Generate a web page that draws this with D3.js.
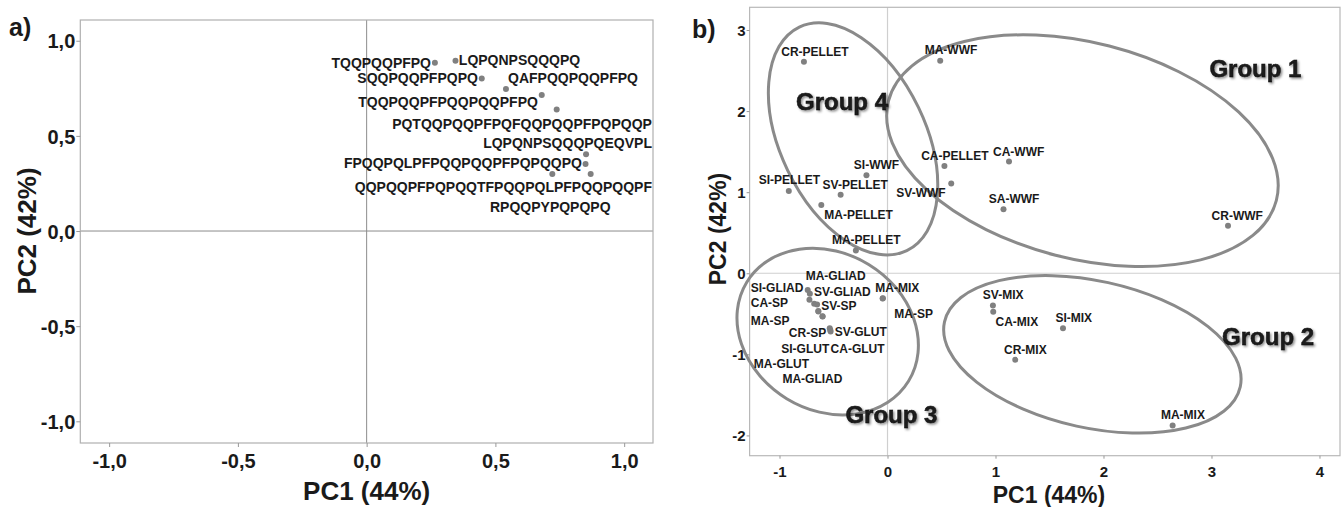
<!DOCTYPE html>
<html>
<head>
<meta charset="utf-8">
<script src="https://cdn.jsdelivr.net/npm/d3@7"></script>
<style>
  html, body { margin: 0; padding: 0; background: #fff; }
  svg { display: block; }
  text { font-family: "Liberation Sans", Arial, sans-serif; font-weight: bold; fill: #1a1a1a; }
</style>
</head>
<body>
<svg id="chart" width="1341" height="507"></svg>
<script>
// ---------- Panel a: peptide loadings ----------
const peptides = ["TQQPQQPFPQ", "LQPQNPSQQQPQ", "SQQPQQPFPQPQ", "QAFPQQPQQPFPQ",
  "TQQPQQPFPQQPQQPFPQ", "PQTQQPQQPFPQFQQPQQPFPQPQQP", "LQPQNPSQQQPQEQVPL",
  "FPQQPQLPFPQQPQQPFPQPQQPQ", "QQPQQPFPQPQQTFPQQPQLPFPQQPQQPF", "RPQQPYPQPQPQ"];
const pepPC1 = [0.265, 0.345, 0.447, 0.541, 0.680, 0.738, 0.852, 0.850, 0.721, 0.870];
const pepPC2 = [0.884, 0.895, 0.802, 0.746, 0.715, 0.639, 0.403, 0.352, 0.300, 0.300];
// label anchor positions (read in PC units) and text anchor
const pepLabelPC1 = [0.250, 0.358, 0.432, 0.549, 0.665, 1.108, 1.108, 0.836, 1.108, 0.479];
const pepLabelPC2 = [0.857, 0.872, 0.778, 0.778, 0.652, 0.536, 0.436, 0.331, 0.205, 0.100];
const pepLabelAnchor = ["end", "start", "end", "start", "end", "end", "end", "end", "end", "start"];
const ticksA = [-1, -0.5, 0, 0.5, 1];
const tickLabelsA = ["-1,0", "-0,5", "0,0", "0,5", "1,0"];

// ---------- Panel b: sample scores ----------
const samples = ["CR-PELLET", "MA-WWF", "CA-PELLET", "CA-WWF", "SV-WWF", "SA-WWF", "CR-WWF",
  "SI-WWF", "SI-PELLET", "SV-PELLET", "MA-PELLET", "MA-PELLET",
  "MA-GLIAD", "SI-GLIAD", "SV-GLIAD", "CA-SP", "SV-SP", "MA-SP", "CR-SP", "SV-GLUT",
  "SI-GLUT", "CA-GLUT", "MA-GLUT", "MA-GLIAD", "MA-MIX", "MA-SP",
  "SV-MIX", "CA-MIX", "SI-MIX", "CR-MIX", "MA-MIX"];
const samplePC1 = [-0.774, 0.488, 0.527, 1.125, 0.590, 1.074, 3.153,
  -0.195, -0.914, -0.434, -0.613, -0.293,
  -0.739, -0.719, -0.723, -0.679, -0.652, -0.640, -0.601, -0.535,
  -0.527, -0.530, -0.602, -0.641, -0.043, -0.045,
  0.976, 0.979, 1.625, 1.183, 2.640];
const samplePC2 = [2.607, 2.620, 1.324, 1.377, 1.106, 0.790, 0.585,
  1.209, 1.016, 0.967, 0.843, 0.280,
  -0.205, -0.254, -0.328, -0.377, -0.386, -0.472, -0.534, -0.677,
  -0.719, -0.700, -0.530, -0.465, -0.307, -0.310,
  -0.398, -0.476, -0.677, -1.068, -1.878];
const sampleLabelPC1 = [-0.984, 0.344, 0.312, 0.977, 0.082, 0.938, 3.001,
  -0.312, -1.192, -0.601, -0.586, -0.515,
  -0.758, -1.266, -0.680, -1.266, -0.614, -1.266, -0.914, -0.488,
  -0.984, -0.527, -1.238, -0.973, -0.113, 0.063,
  0.883, 1.000, 1.555, 1.079, 2.532];
const sampleLabelPC2 = [2.681, 2.705, 1.398, 1.451, 0.938, 0.864, 0.658,
  1.287, 1.099, 1.037, 0.671, 0.363,
  -0.081, -0.233, -0.275, -0.418, -0.451, -0.636, -0.781, -0.772,
  -0.985, -0.978, -1.163, -1.348, -0.226, -0.546,
  -0.316, -0.649, -0.603, -0.994, -1.799];
const ticksBx = [-1, 0, 1, 2, 3, 4];
const ticksBy = [-2, -1, 0, 1, 2, 3];

// groups (ellipses in PC units)
const groupNames = ["Group 1", "Group 2", "Group 3", "Group 4"];
const groupLabelPC1 = [2.981, 3.098, -0.390, -0.847];
const groupLabelPC2 = [2.422, -0.883, -1.841, 2.016];
const ellCx = [1.805, 1.897, -0.554, -0.319];
const ellCy = [1.512, -1.000, -0.719, 1.657];
const ellRx = [1.854, 1.402, 0.878, 1.148];
const ellRy = [1.332, 0.906, 0.970, 0.895];
const ellAngle = [14.4, 12.4, 31.4, 64.3];

// ---------- drawing ----------
const svg = d3.select("#chart");
const defs = svg.append("defs");
const f = defs.append("filter").attr("id", "shadow").attr("x", "-20%").attr("y", "-20%").attr("width", "140%").attr("height", "160%");
f.append("feDropShadow").attr("dx", 1.5).attr("dy", 1.5).attr("stdDeviation", 1.2)
  .attr("flood-color", "#000").attr("flood-opacity", 0.45);

const hyphenInt = d => String(d).replace("\u2212", "-");

// Panel a
const xA = d3.scaleLinear().domain([-1.112, 1.112]).range([80.3, 653]);
const yA = d3.scaleLinear().domain([-1.114, 1.109]).range([443, 20]);
const gA = svg.append("g");

gA.append("line").attr("x1", xA(0)).attr("x2", xA(0)).attr("y1", yA.range()[1]).attr("y2", yA.range()[0])
  .attr("stroke", "#8c8c8c").attr("stroke-width", 1);
gA.append("line").attr("x1", xA.range()[0]).attr("x2", xA.range()[1]).attr("y1", yA(0)).attr("y2", yA(0))
  .attr("stroke", "#8c8c8c").attr("stroke-width", 1);
gA.append("rect").attr("x", xA.range()[0]).attr("y", yA.range()[1])
  .attr("width", xA.range()[1] - xA.range()[0]).attr("height", yA.range()[0] - yA.range()[1])
  .attr("fill", "none").attr("stroke", "#b0b0b0").attr("stroke-width", 1.2);

const axA_x = gA.append("g").attr("transform", `translate(0,${yA.range()[0]})`)
  .call(d3.axisBottom(xA).tickValues(ticksA).tickSize(4).tickFormat((d, i) => tickLabelsA[i]));
const axA_y = gA.append("g").attr("transform", `translate(${xA.range()[0]},0)`)
  .call(d3.axisLeft(yA).tickValues(ticksA).tickSize(4).tickFormat((d, i) => tickLabelsA[i]));
[axA_x, axA_y].forEach(a => {
  a.select(".domain").remove();
  a.selectAll(".tick line").attr("stroke", "#999");
  a.selectAll("text").attr("font-size", 20).attr("font-weight", "bold").attr("fill", "#1a1a1a")
    .attr("font-family", "Liberation Sans, Arial, sans-serif");
});
axA_x.selectAll("text").attr("dy", null).attr("y", 25);
axA_y.selectAll("text").attr("x", -5).attr("dy", "0.36em");

gA.selectAll("circle.pep").data(peptides).join("circle").attr("class", "pep")
  .attr("cx", (d, i) => xA(pepPC1[i])).attr("cy", (d, i) => yA(pepPC2[i]))
  .attr("r", 3).attr("fill", "#808080");
gA.selectAll("text.pep").data(peptides).join("text").attr("class", "pep")
  .attr("x", (d, i) => xA(pepLabelPC1[i])).attr("y", (d, i) => yA(pepLabelPC2[i]))
  .attr("text-anchor", (d, i) => pepLabelAnchor[i])
  .attr("font-size", 14).text(d => d);

gA.append("text").attr("x", (xA.range()[0] + xA.range()[1]) / 2).attr("y", 500)
  .attr("text-anchor", "middle").attr("font-size", 26).text("PC1 (44%)");
gA.append("text").attr("transform", `translate(36,${yA(0)}) rotate(-90)`)
  .attr("text-anchor", "middle").attr("font-size", 26).text("PC2 (42%)");
gA.append("text").attr("x", 9).attr("y", 36).attr("font-size", 25).text("a)");

// Panel b
const xB = d3.scaleLinear().domain([-1.277, 4.19]).range([749.6, 1340]);
const yB = d3.scaleLinear().domain([-2.25, 3.28]).range([455.7, 7.3]);
const gB = svg.append("g");

gB.append("line").attr("x1", xB(0)).attr("x2", xB(0)).attr("y1", yB.range()[1]).attr("y2", yB.range()[0])
  .attr("stroke", "#cfcfcf").attr("stroke-width", 1.2);
gB.append("line").attr("x1", xB.range()[0]).attr("x2", xB.range()[1]).attr("y1", yB(0)).attr("y2", yB(0))
  .attr("stroke", "#cfcfcf").attr("stroke-width", 1.2);
gB.append("rect").attr("x", xB.range()[0]).attr("y", yB.range()[1])
  .attr("width", xB.range()[1] - xB.range()[0]).attr("height", yB.range()[0] - yB.range()[1])
  .attr("fill", "none").attr("stroke", "#b8b8b8").attr("stroke-width", 1.2);

const axB_x = gB.append("g").attr("transform", `translate(0,${yB.range()[0]})`)
  .call(d3.axisBottom(xB).tickValues(ticksBx).tickSize(3).tickFormat(hyphenInt));
const axB_y = gB.append("g").attr("transform", `translate(${xB.range()[0]},0)`)
  .call(d3.axisLeft(yB).tickValues(ticksBy).tickSize(3).tickFormat(hyphenInt));
[axB_x, axB_y].forEach(a => {
  a.select(".domain").remove();
  a.selectAll(".tick line").attr("stroke", "#999");
  a.selectAll("text").attr("font-size", 15).attr("font-weight", "bold").attr("fill", "#1a1a1a")
    .attr("font-family", "Liberation Sans, Arial, sans-serif");
});
axB_x.selectAll("text").attr("dy", null).attr("y", 21);
axB_y.selectAll("text").attr("x", -4).attr("dy", "0.36em");

// ellipses
const kx = xB(1) - xB(0), ky = yB(0) - yB(1);
gB.selectAll("ellipse.grp").data(groupNames).join("ellipse").attr("class", "grp")
  .attr("transform", (d, i) => `translate(${xB(ellCx[i])},${yB(ellCy[i])}) rotate(${ellAngle[i]})`)
  .attr("rx", (d, i) => ellRx[i] * kx).attr("ry", (d, i) => ellRy[i] * ky)
  .attr("fill", "none").attr("stroke", "#8a8a8a").attr("stroke-width", 3);

gB.selectAll("circle.smp").data(samples).join("circle").attr("class", "smp")
  .attr("cx", (d, i) => xB(samplePC1[i])).attr("cy", (d, i) => yB(samplePC2[i]))
  .attr("r", 3).attr("fill", "#808080");
gB.selectAll("text.smp").data(samples).join("text").attr("class", "smp")
  .attr("x", (d, i) => xB(sampleLabelPC1[i])).attr("y", (d, i) => yB(sampleLabelPC2[i]))
  .attr("font-size", 12).text(d => d);

gB.selectAll("text.grp").data(groupNames).join("text").attr("class", "grp")
  .attr("x", (d, i) => xB(groupLabelPC1[i])).attr("y", (d, i) => yB(groupLabelPC2[i]))
  .attr("font-family", "Lato, 'Open Sans', sans-serif").attr("font-size", 24)
  .attr("fill", "#111").attr("stroke", "#111").attr("stroke-width", 0.5)
  .attr("filter", "url(#shadow)").text(d => d);

gB.append("text").attr("x", 1049).attr("y", 503)
  .attr("text-anchor", "middle").attr("font-size", 23).text("PC1 (44%)");
gB.append("text").attr("transform", `translate(726,229) rotate(-90)`)
  .attr("text-anchor", "middle").attr("font-size", 23).text("PC2 (42%)");
gB.append("text").attr("x", 692).attr("y", 38).attr("font-size", 25).text("b)");
</script>
</body>
</html>
